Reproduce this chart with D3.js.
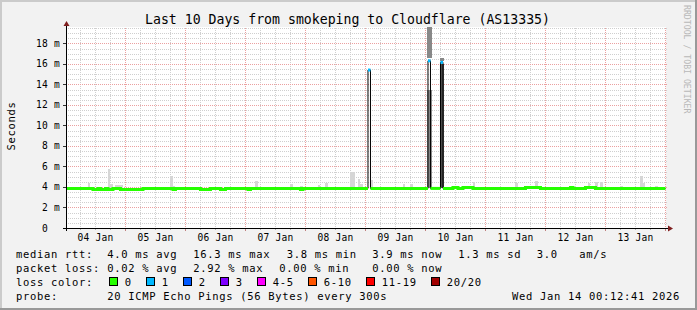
<!DOCTYPE html>
<html><head><meta charset="utf-8">
<script src="https://cdn.jsdelivr.net/npm/d3@7/dist/d3.min.js"></script>
<style>
html,body{margin:0;padding:0;background:#f2f2f2;}
svg{display:block;}
text{font-family:"DejaVu Sans Mono",monospace;white-space:pre;}
</style></head><body>
<svg id="c" width="697" height="310"></svg>
<script>
// ---------------- data ----------------
const title = "Last 10 Days from smokeping to Cloudflare (AS13335)";
const yAxisTitle = "Seconds";
const watermark = "RRDTOOL / TOBI OETIKER";
// time axis in hours since 2026-01-04 00:00 (local); view ends Wed Jan 14 00:12:41
const viewStartHour = 0.2114;
const viewEndHour = 240.2114;
const dayLabels = ["04 Jan","05 Jan","06 Jan","07 Jan","08 Jan","09 Jan","10 Jan","11 Jan","12 Jan","13 Jan"];
const dayLabelHours = [12,36,60,84,108,132,156,180,204,228];
const yTickValues = [0,2,4,6,8,10,12,14,16,18];
const yTickLabels = ["0  ","2 m","4 m","6 m","8 m","10 m","12 m","14 m","16 m","18 m"];
// median rtt (ms), hourly bins, as runs [fromHour, toHour(excl), value]
const medianRuns = [
  [0,11,3.86],[11,13,3.76],[13,14,3.86],[14,16,3.76],[16,17,3.86],[17,19,3.76],
  [19,22,3.86],[22,31,3.76],[31,43,3.86],[43,44,3.76],[44,54,3.86],[54,58,3.76],
  [58,62,3.86],[62,64,3.76],[64,73,3.86],[73,74,3.76],[74,94,3.86],[94,95,3.76],
  [95,121,3.86],[121,122,15.4],[122,145,3.86],[145,146,16.3],[146,150,3.86],
  [150,151,16.15],[151,155,3.86],[155,157,3.95],[157,159,3.86],[159,163,3.95],
  [163,184,3.86],[184,190,3.95],[190,202,3.86],[202,203,3.95],[203,208,3.86],
  [208,212,3.95],[212,240,3.86]
];
// hours with packet loss: [hour, lost pings of 20]
const lossEvents = [[121,1],[145,1],[150,1]];
// light smoke (max rtt) sticking out above the median: [hour, max ms]
const smokeTops = [
  [9,4.35],[17,5.8],[18,4.3],[20,4.2],[21,4.2],[22,4.2],[42,5.1],[43,4.1],
  [76,4.6],[90,4.3],[94,4.1],[101,4.15],[104,4.35],[114,5.5],[115,5.5],[117,4.75],
  [118,4.3],[122,4.7],[135,4.3],[138,4.3],[163,4.5],[180,4.35],[188,4.6],
  [209,4.35],[212,4.5],[214,4.5],[222,4.1],[230,5.1],[231,4.35],[236,4.1]
];
// dense smoke bands at the spikes: [hour, low ms, high ms, density level]
const spikeSmoke = [[145,16.6,21,2],[145,3.9,13.5,3],[150,16.3,16.55,2],[150,3.9,16.0,4]];
// legend
const lossLabels = ["0","1","2","3","4-5","6-10","11-19","20/20"];
const lossUpper  = [0,1,2,3,5,10,19,20];
const lossColors = ["#26ff00","#00b8ff","#0059ff","#7e00ff","#ff00ff","#ff5500","#ff0000","#a10000"];
const rttRow  = ["median rtt:","4.0 ms avg","16.3 ms max","3.8 ms min","3.9 ms now","1.3 ms sd","3.0","am/s"];
const lossRow = ["packet loss:","0.02 % avg","2.92 % max","0.00 % min","0.00 % now"];
const probeRow = ["probe:","20 ICMP Echo Pings (56 Bytes) every 300s"];
const timestamp = "Wed Jan 14 00:12:41 2026";

// ---------------- layout ----------------
const W = 697, H = 310;
const PL = 66, PR = 666, PT = 28, PB = 228;
const rttX  = [16,107.3,193.3,286.7,372.3,458.3,536.7,579.3];
const lossX = [16,107.3,193.3,279.3,372.3];
const rowY = [258,272,286,299.5];
const smokeShade = {1:"#d6d6d6",2:"#888888",3:"#8a8a8a",4:"#4b4b4b"};

const svg = d3.select("#c");
svg.append("rect").attr("width",W).attr("height",H).attr("fill","#f2f2f2");
svg.append("path").attr("d",`M0,0H${W}V2H2V${H}H0Z`).attr("fill","#cbcbcb");
svg.append("path").attr("d",`M${W},${H}H0V${H-2}H${W-2}V0H${W}Z`).attr("fill","#999999");

const x = d3.scaleLinear().domain([viewStartHour, viewEndHour]).range([PL, PR]);
const y = d3.scaleLinear().domain([0, 19.5]).range([PB, PT]);

svg.append("rect").attr("x",PL).attr("y",PT-1).attr("width",PR-PL).attr("height",PB-PT+1).attr("fill","#ffffff");

const defs = svg.append("defs");
defs.append("clipPath").attr("id","pc").append("rect")
  .attr("x",PL).attr("y",PT-1).attr("width",PR-PL).attr("height",PB-PT+1);

// grid
const grid = svg.append("g");
const minorY = d3.range(1,40).map(d=>d*0.5).filter(v=>v%2!==0);
const majorY = yTickValues.filter(v=>v>0);
const h0 = Math.ceil(viewStartHour/6)*6;
const minorX = d3.range(h0, viewEndHour, 6).filter(h=>h%24!==0);
const majorX = d3.range(Math.ceil(viewStartHour/24)*24, viewEndHour, 24);
const px = v => Math.round(v)+0.5;
grid.selectAll(".mny").data(minorY).join("line")
  .attr("x1",PL).attr("x2",PR+2).attr("y1",d=>px(y(d))).attr("y2",d=>px(y(d)))
  .attr("stroke","#cfcfcf").attr("stroke-dasharray","1,1");
grid.selectAll(".mnx").data(minorX).join("line")
  .attr("y1",PT).attr("y2",PB).attr("x1",d=>px(x(d))).attr("x2",d=>px(x(d)))
  .attr("stroke","#cfcfcf").attr("stroke-dasharray","1,1");
grid.selectAll(".mjy").data(majorY).join("line")
  .attr("x1",PL).attr("x2",PR+2).attr("y1",d=>px(y(d))).attr("y2",d=>px(y(d)))
  .attr("stroke","#eba0a0").attr("stroke-dasharray","1,1");
grid.selectAll(".mjx").data(majorX).join("line")
  .attr("y1",PT).attr("y2",PB).attr("x1",d=>px(x(d))).attr("x2",d=>px(x(d)))
  .attr("stroke","#eba0a0").attr("stroke-dasharray","1,1");

// hourly data from runs
const bins = [];
medianRuns.forEach(([a,b,v])=>{ for(let h=a;h<b;h++) bins.push({h, m:v, loss:0}); });
const lossMap = new Map(lossEvents);
bins.forEach(d=>{ if(lossMap.has(d.h)) d.loss = lossMap.get(d.h); });
const medOf = new Map(bins.map(d=>[d.h,d.m]));
const colorFor = l => lossColors[lossUpper.findIndex(u=>l<=u)];

const plot = svg.append("g").attr("clip-path","url(#pc)");
// smoke
plot.selectAll(".smk").data(smokeTops).join("rect")
  .attr("x",d=>x(d[0])).attr("width",d=>x(d[0]+1)-x(d[0]))
  .attr("y",d=>y(d[1])).attr("height",d=>y(medOf.get(d[0]))-y(d[1]))
  .attr("fill",smokeShade[1]).attr("shape-rendering","crispEdges");
plot.selectAll(".ssk").data(spikeSmoke).join("rect")
  .attr("x",d=>Math.floor(x(d[0]))).attr("width",d=>Math.ceil(x(d[0]+1))-Math.floor(x(d[0]))+1)
  .attr("y",d=>y(d[2])).attr("height",d=>y(d[1])-y(d[2]))
  .attr("fill",d=>smokeShade[d[3]]).attr("shape-rendering","crispEdges");

// black thin median step line
const stepLine = d3.line().x(d=>x(d.h)).y(d=>y(d.m)).curve(d3.curveStepAfter);
const withEnd = arr => arr.concat([{h:arr[arr.length-1].h+1, m:arr[arr.length-1].m}]);
plot.append("path").attr("d",stepLine(withEnd(bins)))
  .attr("fill","none").attr("stroke","#000").attr("stroke-width",1);

// coloured median (by loss) runs
const runs = [];
bins.forEach(d=>{
  const c = colorFor(d.loss);
  const last = runs[runs.length-1];
  if(last && last.c===c && last.pts[last.pts.length-1].h===d.h-1) last.pts.push(d);
  else runs.push({c, pts:[d]});
});
plot.selectAll(".med").data(runs).join("path")
  .attr("d",r=>stepLine(withEnd(r.pts)))
  .attr("fill","none").attr("stroke",r=>r.c).attr("stroke-width",3);

// axes
const axisCol = "#000";
svg.append("line").attr("x1",PL-3).attr("x2",PR+3).attr("y1",PB+0.5).attr("y2",PB+0.5).attr("stroke",axisCol);
svg.append("line").attr("x1",PL+0.5).attr("x2",PL+0.5).attr("y1",PB+3).attr("y2",PT-3).attr("stroke",axisCol);
svg.append("path").attr("d",`M${PR+2},${PB-2.5}L${PR+7},${PB+0.5}L${PR+2},${PB+3.5}Z`).attr("fill","#7f1f1f");
svg.append("path").attr("d",`M${PL-2.5},${PT-2}L${PL+0.5},${PT-7}L${PL+3.5},${PT-2}Z`).attr("fill","#7f1f1f");
// ticks
svg.selectAll(".ytk").data(majorY).join("line")
  .attr("x1",PL-3).attr("x2",PL).attr("y1",d=>px(y(d))).attr("y2",d=>px(y(d))).attr("stroke","#333");
svg.selectAll(".xtk").data(majorX).join("line")
  .attr("x1",d=>px(x(d))).attr("x2",d=>px(x(d))).attr("y1",PB+1).attr("y2",PB+3).attr("stroke","#c08080");
svg.selectAll(".xtm").data(minorX).join("line")
  .attr("x1",d=>px(x(d))).attr("x2",d=>px(x(d))).attr("y1",PB+1).attr("y2",PB+2).attr("stroke","#aaa");

// axis labels
svg.selectAll(".yl").data(yTickValues).join("text")
  .attr("x",60).attr("y",(d)=>y(d)+3.5).attr("text-anchor","end")
  .attr("font-size","9.6px").attr("letter-spacing","0.2px")
  .text((d,i)=>yTickLabels[i]);
svg.selectAll(".xl").data(dayLabels).join("text")
  .attr("x",(d,i)=>x(dayLabelHours[i])).attr("y",241).attr("text-anchor","middle")
  .attr("font-size","9.6px").attr("letter-spacing","0.2px").text(d=>d);

// titles
svg.append("text").attr("x",347.5).attr("y",24).attr("text-anchor","middle")
  .attr("font-size","13.2px").text(title);
svg.append("text").attr("transform","translate(14.5,126) rotate(-90)").attr("text-anchor","middle")
  .attr("font-size","10.5px").attr("letter-spacing","0.68px").text(yAxisTitle);
svg.append("text").attr("transform","translate(684,5) rotate(90)").attr("text-anchor","start")
  .attr("font-size","8.2px").attr("fill","#b8b8b8").text(watermark);

// legend
const lg = svg.append("g").attr("font-size","10.5px").attr("letter-spacing","0.68px");
lg.selectAll(".r1").data(rttRow).join("text").attr("x",(d,i)=>rttX[i]).attr("y",rowY[0]).text(d=>d);
lg.selectAll(".r2").data(lossRow).join("text").attr("x",(d,i)=>lossX[i]).attr("y",rowY[1]).text(d=>d);
lg.append("text").attr("x",16).attr("y",rowY[2]).text("loss color:");
let cx = 108.7;
lossLabels.forEach((lab,i)=>{
  lg.append("rect").attr("x",Math.round(cx)+0.5).attr("y",rowY[2]-8.5).attr("width",8).attr("height",8)
    .attr("fill",lossColors[i]).attr("stroke","#000").attr("stroke-width",1);
  lg.append("text").attr("x",cx+16).attr("y",rowY[2]).text(lab);
  cx += 16 + lab.length*7 + 14;
});
lg.append("text").attr("x",16).attr("y",rowY[3]).text(probeRow[0]);
lg.append("text").attr("x",107.3).attr("y",rowY[3]).text(probeRow[1]);
lg.append("text").attr("x",680).attr("y",rowY[3]).attr("text-anchor","end").text(timestamp);
</script>
</body></html>
